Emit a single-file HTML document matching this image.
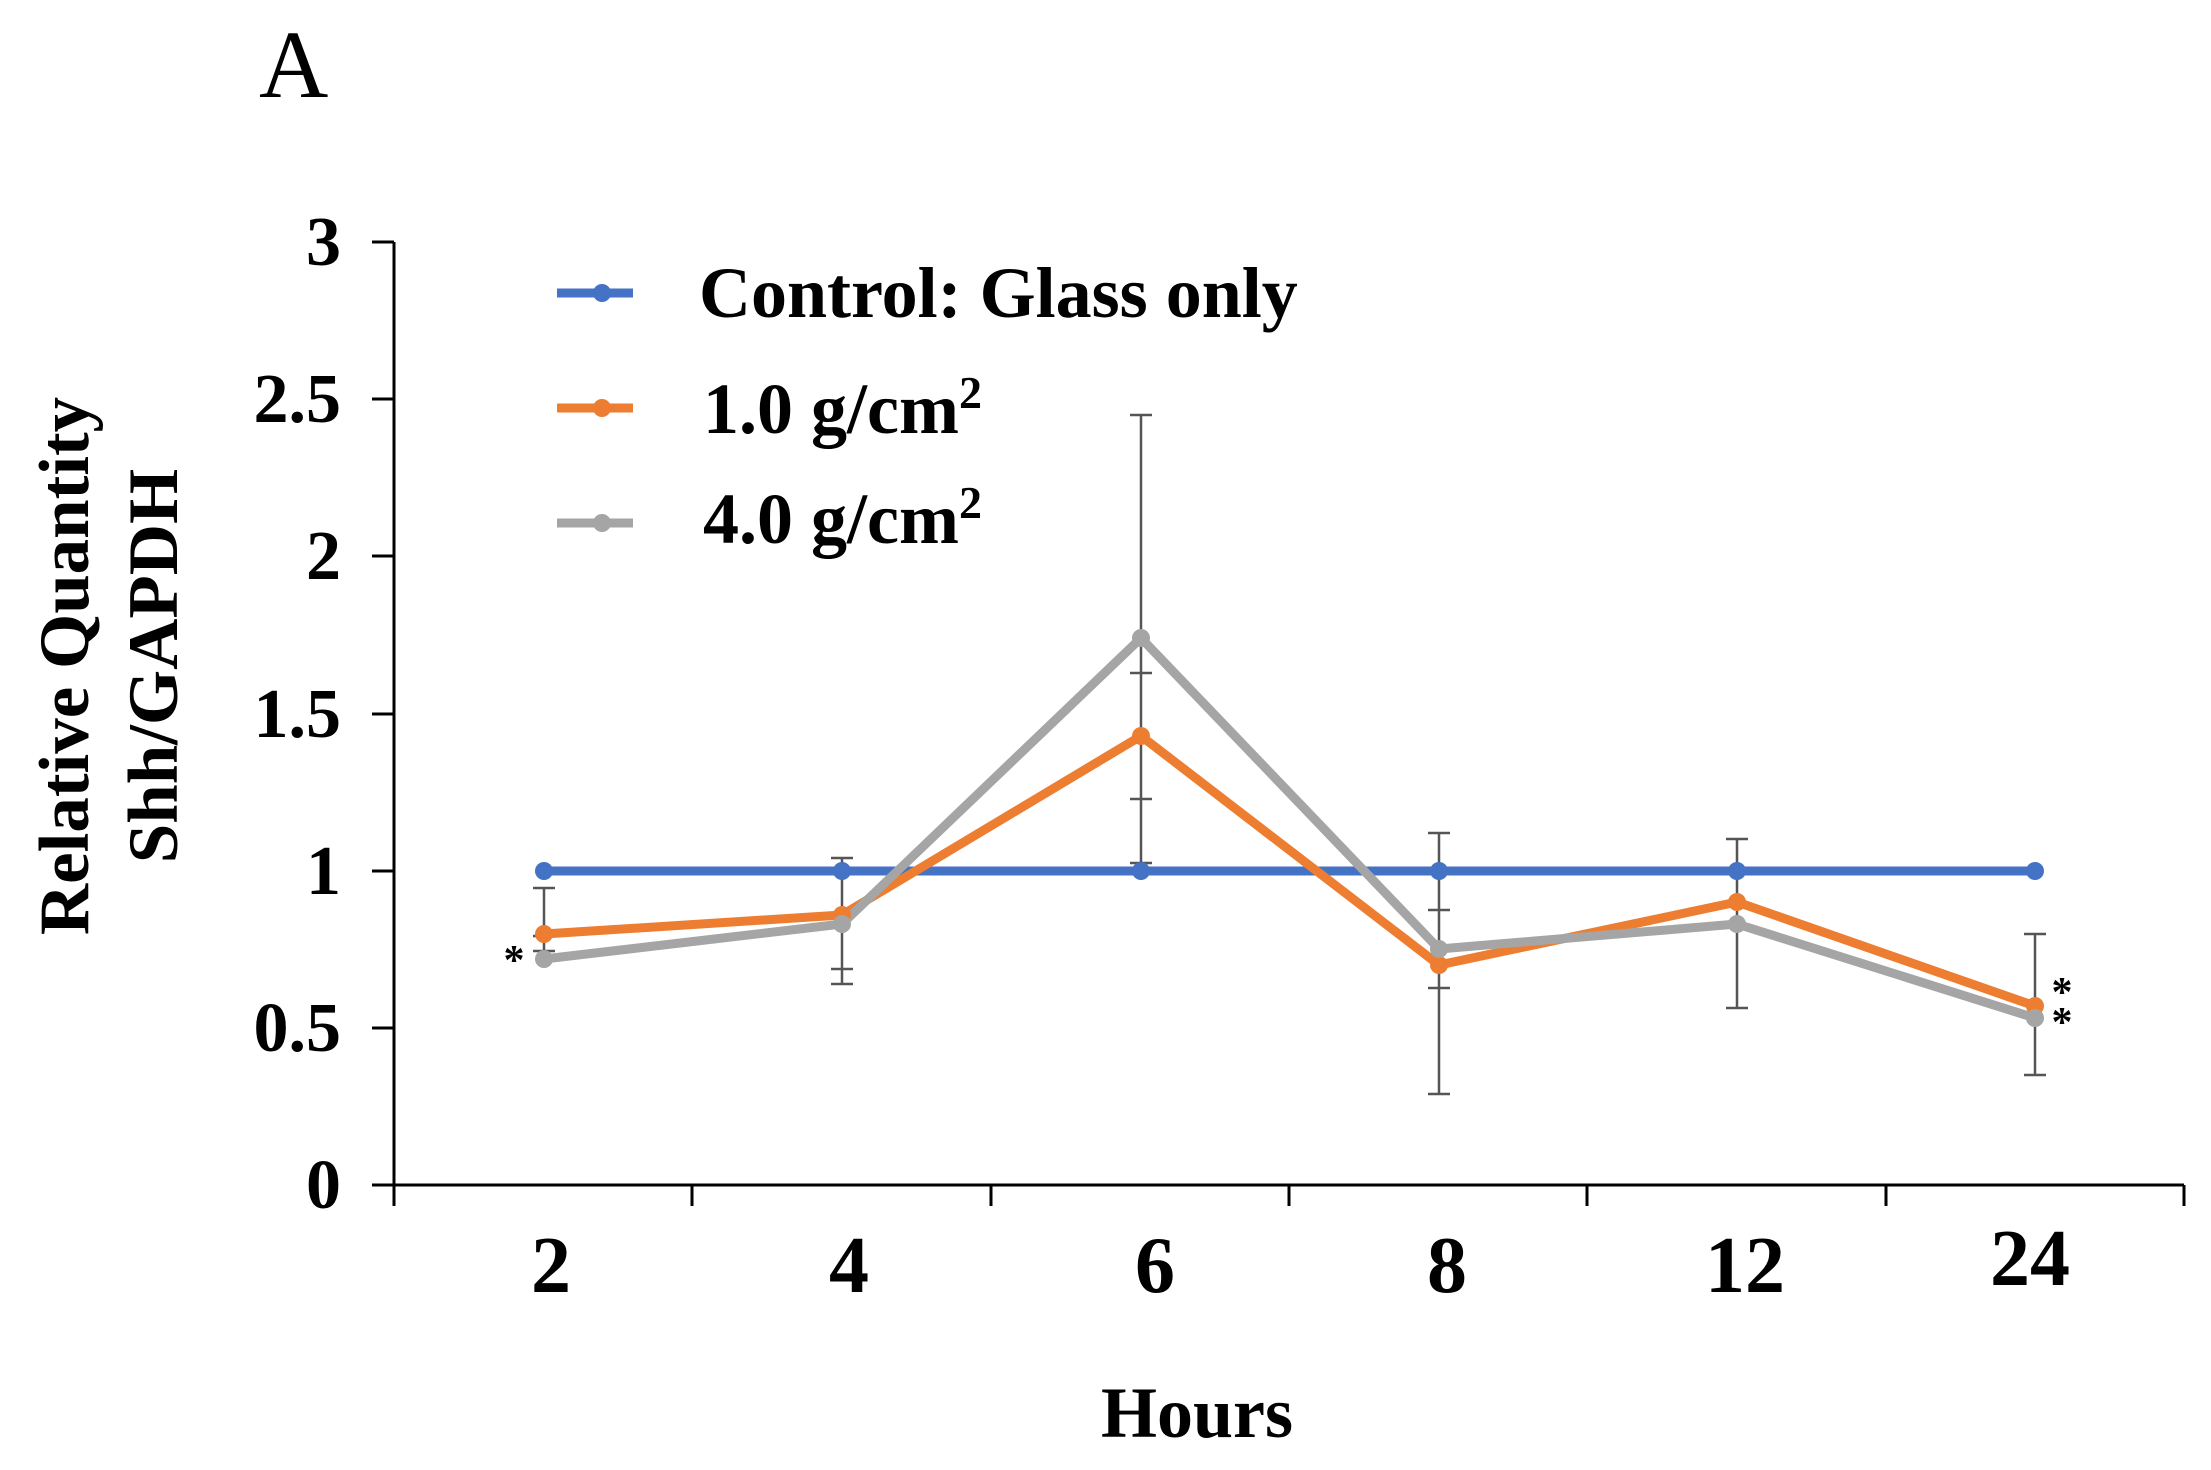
<!DOCTYPE html>
<html><head><meta charset="utf-8"><style>
html,body{margin:0;padding:0;background:#fff;}
svg{display:block;}
text{font-family:"Liberation Serif",serif;font-weight:bold;fill:#000;}
</style></head><body>
<svg width="2211" height="1470" viewBox="0 0 2211 1470" xmlns="http://www.w3.org/2000/svg">
<text x="259" y="97" font-size="96" style="font-weight:normal">A</text>
<g stroke="#000" stroke-width="3" fill="none">
<line x1="394" y1="242" x2="394" y2="1186"/>
<line x1="394" y1="1185" x2="2184" y2="1185"/>
<line x1="372" y1="242" x2="394" y2="242"/>
<line x1="372" y1="399" x2="394" y2="399"/>
<line x1="372" y1="556" x2="394" y2="556"/>
<line x1="372" y1="714" x2="394" y2="714"/>
<line x1="372" y1="871" x2="394" y2="871"/>
<line x1="372" y1="1028" x2="394" y2="1028"/>
<line x1="372" y1="1185" x2="394" y2="1185"/>
<line x1="394" y1="1185" x2="394" y2="1206"/>
<line x1="692" y1="1185" x2="692" y2="1206"/>
<line x1="991" y1="1185" x2="991" y2="1206"/>
<line x1="1289" y1="1185" x2="1289" y2="1206"/>
<line x1="1587" y1="1185" x2="1587" y2="1206"/>
<line x1="1886" y1="1185" x2="1886" y2="1206"/>
<line x1="2184" y1="1185" x2="2184" y2="1206"/>
</g>
<g font-size="70" text-anchor="end">
<text x="341" y="265">3</text>
<text x="341" y="422">2.5</text>
<text x="341" y="579">2</text>
<text x="341" y="737">1.5</text>
<text x="341" y="894">1</text>
<text x="341" y="1051">0.5</text>
<text x="341" y="1208">0</text>
</g>
<g font-size="80" text-anchor="middle">
<text x="551" y="1292">2</text>
<text x="849" y="1292">4</text>
<text x="1155" y="1292">6</text>
<text x="1447" y="1292">8</text>
<text x="1745" y="1292">12</text>
<text x="2030" y="1285">24</text>
<text x="1197" y="1437" font-size="72">Hours</text>
</g>
<g font-size="71" text-anchor="middle">
<text transform="translate(88,666) rotate(-90)">Relative Quantity</text>
<text transform="translate(177,666) rotate(-90)">Shh/GAPDH</text>
</g>
<g stroke="#555" stroke-width="2.5" fill="none">
<path d="M544 888V951 M533 888H555 M533 936H555 M533 951H555"/>
<path d="M842 858V984 M831 858H853 M831 969H853 M831 984H853"/>
<path d="M1141 415V863 M1130 415H1152 M1130 673H1152 M1130 799H1152 M1130 863H1152"/>
<path d="M1439 833V1094 M1428 833H1450 M1428 910H1450 M1428 988H1450 M1428 1094H1450"/>
<path d="M1737 839V1008 M1726 839H1748 M1726 1008H1748"/>
<path d="M2035 934V1075 M2024 934H2046 M2024 1075H2046"/>
</g>
<g stroke-width="9" fill="none" stroke-linejoin="round">
<polyline stroke="#4472c4" points="544,871 842,871 1141,871 1439,871 1737,871 2035,871"/>
<polyline stroke="#ed7d31" points="544,934 842,915 1141,736 1439,965 1737,902 2035,1006"/>
<polyline stroke="#a5a5a5" points="544,959 842,924 1141,638 1439,949 1737,924 2035,1018"/>
</g>
<g fill="#4472c4"><circle cx="544" cy="871" r="9"/><circle cx="842" cy="871" r="9"/><circle cx="1141" cy="871" r="9"/><circle cx="1439" cy="871" r="9"/><circle cx="1737" cy="871" r="9"/><circle cx="2035" cy="871" r="9"/></g>
<g fill="#ed7d31"><circle cx="544" cy="934" r="9"/><circle cx="842" cy="915" r="9"/><circle cx="1141" cy="736" r="9"/><circle cx="1439" cy="965" r="9"/><circle cx="1737" cy="902" r="9"/><circle cx="2035" cy="1006" r="9"/></g>
<g fill="#a5a5a5"><circle cx="544" cy="959" r="9"/><circle cx="842" cy="924" r="9"/><circle cx="1141" cy="638" r="9"/><circle cx="1439" cy="949" r="9"/><circle cx="1737" cy="924" r="9"/><circle cx="2035" cy="1018" r="9"/></g>
<g font-size="42" style="font-weight:normal" text-anchor="middle">
<text x="514" y="974">*</text>
<text x="2062" y="1006">*</text>
<text x="2062" y="1036">*</text>
</g>
<g stroke-width="9">
<line x1="557" y1="293" x2="633" y2="293" stroke="#4472c4"/>
<line x1="557" y1="408" x2="633" y2="408" stroke="#ed7d31"/>
<line x1="557" y1="523" x2="633" y2="523" stroke="#a5a5a5"/>
</g>
<circle cx="602" cy="293" r="9" fill="#4472c4"/>
<circle cx="602" cy="408" r="9" fill="#ed7d31"/>
<circle cx="602" cy="523" r="9" fill="#a5a5a5"/>
<g font-size="72">
<text x="699" y="317">Control: Glass only</text>
<text x="703" y="433">1.0 g/cm<tspan font-size="46" dy="-25">2</tspan></text>
<text x="703" y="543">4.0 g/cm<tspan font-size="46" dy="-25">2</tspan></text>
</g>
</svg>
</body></html>
